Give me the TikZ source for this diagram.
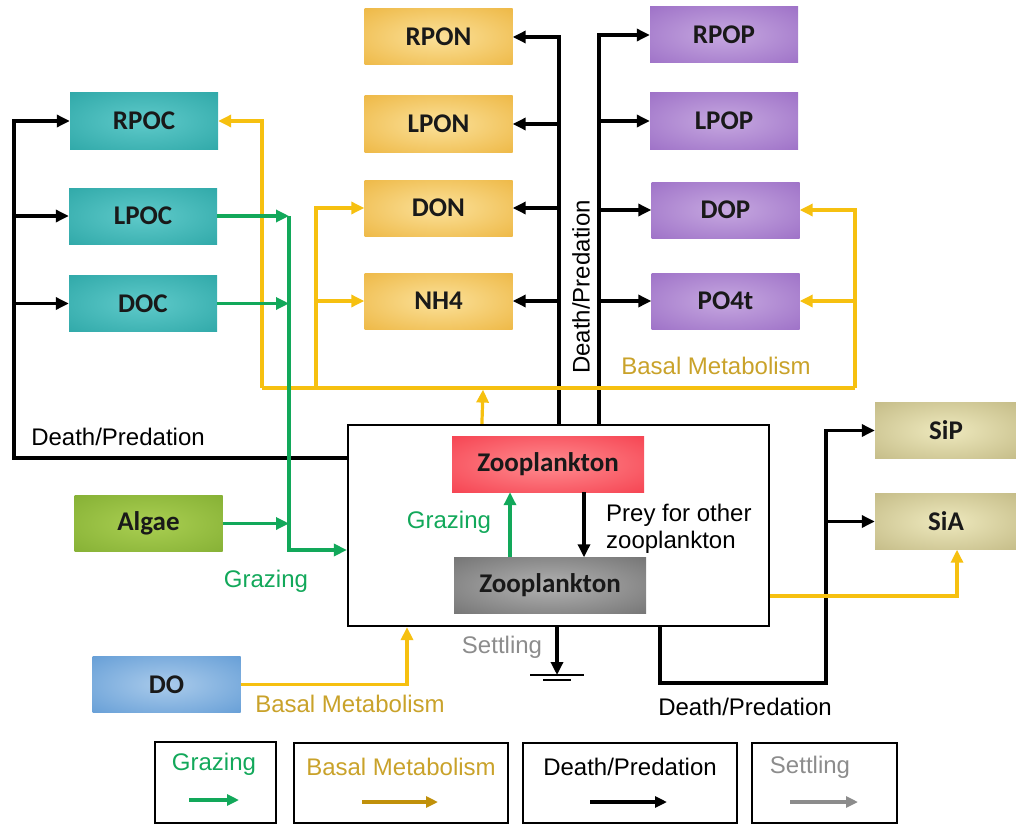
\documentclass[tikz,border=0pt]{standalone}
\usepackage{fontspec}
\setmainfont{Liberation Sans}
\newfontfamily\boxfont{Carlito}
\usetikzlibrary{arrows.meta,calc}

% line and text colours
\definecolor{flowgreen}{HTML}{12A85A}
\definecolor{flowyellow}{HTML}{F6C010}
\definecolor{basaltext}{HTML}{C9A22A}
\definecolor{legendgold}{HTML}{C0900A}
\definecolor{settlegray}{HTML}{8C8C8C}
% box fill colours (centre / edge)
\definecolor{tealin}{HTML}{5FCACA}   \definecolor{tealout}{HTML}{1E9C9C}
\definecolor{goldin}{HTML}{FBE19A}   \definecolor{goldout}{HTML}{E9A926}
\definecolor{lilacin}{HTML}{C6A8E0}  \definecolor{lilacout}{HTML}{8F5DBE}
\definecolor{khakiin}{HTML}{EEE9BE}  \definecolor{khakiout}{HTML}{B5AB73}
\definecolor{algaein}{HTML}{AACF52}  \definecolor{algaeout}{HTML}{78A52A}
\definecolor{doin}{HTML}{AACBEB}     \definecolor{doout}{HTML}{4D8ECF}
\definecolor{redin}{HTML}{FF8C90}    \definecolor{redout}{HTML}{F2283A}
\definecolor{grayin}{HTML}{B2B2B2}   \definecolor{grayout}{HTML}{5E5E5E}

% soft radial glow for the compartment boxes
\colorlet{glowin}{white}
\colorlet{glowout}{black}
\pgfdeclareradialshading[glowin,glowout]{glow}{\pgfpoint{0bp}{0bp}}{%
  color(0bp)=(glowin); color(50bp)=(glowout); color(72bp)=(glowout)}

\begin{document}
\begin{tikzpicture}[x=1pt,y=-1pt,
  comp/.style 2 args={minimum width=148pt,minimum height=56pt,inner sep=0pt,
    /utils/exec={\colorlet{glowin}{#1}\colorlet{glowout}{#2}},shading=glow,
    font=\boxfont\bfseries\fontsize{27}{30}\selectfont,text=black!90},
  cbox/.style={comp={tealin}{tealout}},
  nbox/.style={comp={goldin}{goldout}},
  pbox/.style={comp={lilacin}{lilacout}},
  sbox/.style={comp={khakiin}{khakiout}},
  lbl/.style={font=\fontsize{24}{27}\selectfont,inner sep=0pt},
  tip/.style={-{Triangle[length=13pt,width=12pt]}},
  ltip/.style={-{Triangle[length=12pt,width=11pt]}},
  blk/.style={draw=black,line width=3.2pt},
  ylw/.style={draw=flowyellow,line width=3.2pt},
  grn/.style={draw=flowgreen,line width=3.2pt},
  legbox/.style={draw=black,line width=2pt,inner sep=0pt},
]
\useasboundingbox (0,0) rectangle (1016,824);

% ---- carbon pools ----
\node[cbox] (rpoc) at (144,121) {RPOC};
\node[cbox] (lpoc) at (143,216) {LPOC};
\node[cbox] (doc)  at (143,303.5) {DOC};
% ---- nitrogen pools ----
\node[nbox] (rpon) at (438.5,37) {RPON};
\node[nbox] (lpon) at (438.5,124) {LPON};
\node[nbox] (don)  at (438.5,208) {DON};
\node[nbox] (nh4)  at (438.5,301) {NH4};
% ---- phosphorus pools ----
\node[pbox] (rpop) at (724,35) {RPOP};
\node[pbox] (lpop) at (724,121) {LPOP};
\node[pbox] (dop)  at (725.5,210) {DOP};
\node[pbox] (po4)  at (725.5,301) {PO4t};
% ---- silica pools ----
\node[sbox,minimum width=142pt] (sip) at (946,430.5) {SiP};
\node[sbox,minimum width=142pt] (sia) at (946,521.5) {SiA};
% ---- food and oxygen ----
\node[comp={algaein}{algaeout}] (algae) at (148.5,523.5) {Algae};
\node[comp={doin}{doout}] (do) at (166.5,684.5) {DO};

% ---- zooplankton system ----
\node[draw=black,line width=2.2pt,minimum width=421pt,minimum height=201pt,inner sep=0pt] (sys) at (558.5,525.5) {};
\node[comp={redin}{redout},minimum width=192pt] (zred) at (548,464) {Zooplankton};
\node[comp={grayin}{grayout},minimum width=192pt] (zgray) at (550,585.5) {Zooplankton};

\draw[grn,tip] (510,0 |- zgray.north) -- (510,0 |- zred.south);
\draw[blk,tip] (584,0 |- zred.south) -- (584,0 |- zgray.north);
\node[lbl,text=flowgreen] (grzin) at (449,522) {Grazing};
\node[lbl,align=left,anchor=west] (prey) at (606,529) {Prey for other\\zooplankton};

% ---- death / predation to carbon pools ----
\coordinate (dpl) at (14,458);
\draw[blk,tip] (sys.west |- dpl) -- (dpl) |- (rpoc.west);
\draw[blk,tip] (dpl |- lpoc) -- (lpoc.west);
\draw[blk,tip] (dpl |- doc) -- (doc.west);
\node[lbl] (dplab) at (118,437) {Death/Predation};

% ---- death / predation to nitrogen and phosphorus pools ----
\coordinate (dpn) at ($(sys.north west)+(212,0)$);
\coordinate (dpp) at ($(sys.north west)+(252,0)$);
\draw[blk,tip] (dpn) |- (rpon.east);
\draw[blk,tip] (dpn |- lpon) -- (lpon.east);
\draw[blk,tip] (dpn |- don) -- (don.east);
\draw[blk,tip] (dpn |- nh4) -- (nh4.east);
\draw[blk,tip] (dpp) |- (rpop.west);
\draw[blk,tip] (dpp |- lpop) -- (lpop.west);
\draw[blk,tip] (dpp |- dop) -- (dop.west);
\draw[blk,tip] (dpp |- po4) -- (po4.west);
\node[lbl,rotate=90] (dpvert) at (581,287) {Death/Predation};

% ---- basal metabolism, upper network ----
\coordinate (bmbus) at (483,388);
\coordinate (bml) at (262,388);
\coordinate (bmm) at (316,388);
\coordinate (bmr) at (855,388);
\draw[ylw,tip] ($(sys.north west)+(135,0)$) -- ($(bmbus)+(0,1.6)$);
\draw[ylw] (bml) -- (bmr);
\draw[ylw,tip] (bml) |- (rpoc.east);
\draw[ylw,tip] (bmm) |- (don.west);
\draw[ylw,tip] (bmm |- nh4) -- (nh4.west);
\draw[ylw,tip] (bmr) |- (dop.east);
\draw[ylw,tip] (bmr |- po4) -- (po4.east);
\node[lbl,text=basaltext] (bmtop) at (716,366) {Basal Metabolism};

% ---- grazing inputs ----
\coordinate (gbus) at (289,550);
\draw[grn,tip] (lpoc.east) -- (gbus |- lpoc);
\draw[grn,tip] (doc.east) -- (gbus |- doc);
\draw[grn,tip] (algae.east) -- (gbus |- algae);
\draw[grn,tip] (gbus |- lpoc) -- (gbus) -- (sys.west |- gbus);
\node[lbl,text=flowgreen] (grzout) at (266,581) {Grazing};

% ---- oxygen uptake ----
\coordinate (dobend) at (407,0 |- do);
\draw[ylw,tip] (do.east) -- (dobend) -- (dobend |- sys.south);
\node[lbl,text=basaltext] (bmdo) at (350,704) {Basal Metabolism};

% ---- settling ----
\coordinate (ground) at (557,675);
\draw[blk,tip] (ground |- sys.south) -- (ground);
\draw[black,line width=2.4pt] (530,675) -- (584,675);
\draw[black,line width=1.8pt] (543,680) -- (571,680);
\node[lbl,text=settlegray] (settle) at (502,647) {Settling};

% ---- silica outputs ----
\coordinate (sidown) at (660,683);
\coordinate (siup) at (826,683);
\draw[blk,tip] (sidown |- sys.south) -- (sidown) -- (siup) |- (sip.west);
\draw[blk,tip] (siup |- sia) -- (sia.west);
\node[lbl] (dpbot) at (745,707) {Death/Predation};
\coordinate (siy) at (957,596);
\draw[ylw,tip] (sys.east |- siy) -- (siy) -- (siy |- sia.south);

% ---- legend ----
\node[legbox,minimum width=121pt,minimum height=81pt] (lg1) at (215.5,782) {};
\node[legbox,minimum width=214pt,minimum height=80pt] (lg2) at (401,782.5) {};
\node[legbox,minimum width=214pt,minimum height=80pt] (lg3) at (630,782.5) {};
\node[legbox,minimum width=145pt,minimum height=80pt] (lg4) at (824.5,782.5) {};
\node[lbl,text=flowgreen] at (214,764) {Grazing};
\node[lbl,text=basaltext] at (401,767) {Basal Metabolism};
\node[lbl] at (630,767) {Death/Predation};
\node[lbl,text=settlegray] at (810,767) {Settling};
\coordinate (a1) at (189,800); \coordinate (b1) at (239,800);
\coordinate (a2) at (362,802); \coordinate (b2) at (438,802);
\coordinate (a3) at (590,802); \coordinate (b3) at (667,802);
\coordinate (a4) at (790,802); \coordinate (b4) at (858,802);
\draw[draw=flowgreen,line width=3.2pt,ltip] (a1) -- (b1);
\draw[draw=legendgold,line width=3.2pt,ltip] (a2) -- (b2);
\draw[draw=black,line width=3.2pt,ltip] (a3) -- (b3);
\draw[draw=settlegray,line width=3.2pt,ltip] (a4) -- (b4);
\end{tikzpicture}
\end{document}
